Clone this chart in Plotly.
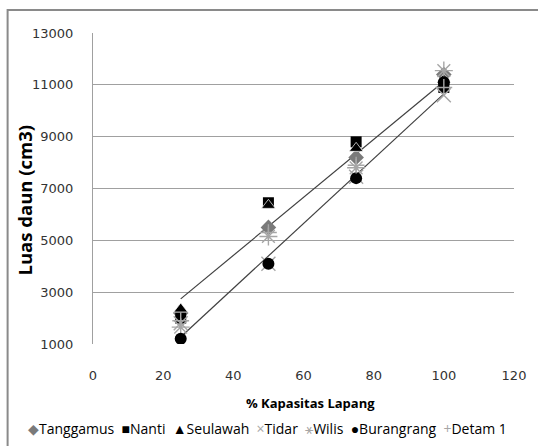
import plotly.graph_objects as go

# Soil water level (% field capacity) and leaf area per variety
kapasitas = [25, 50, 75, 100]

tanggamus = [2200, 5500, 8200, 11400]
nanti = [2000, 6450, 8800, 10900]
seulawah = [2350, 6350, 8550, 11200]
tidar = [1800, 4100, 7450, 10600]
wilis = [1650, 5150, 7800, 11550]
burangrang = [1200, 4100, 7400, 11100]
detam1 = [1900, 5300, 7900, 10900]

# Linear trend lines (end points at 25 and 100 % field capacity)
trend_x = [25, 100]
trend_upper = [2740, 11130]
trend_lower = [1270, 10650]

x_ticks = [0, 20, 40, 60, 80, 100, 120]
y_ticks = [1000, 3000, 5000, 7000, 9000, 11000, 13000]
y_tick_labels = ["1000", "3000", "5000", "7000", "9000", "11000", "13000"]
x_tick_labels = ["0", "20", "40", "60", "80", "100", "120"]

W, H = 538, 446
L, R, T, B = 93, 21, 33, 102
pw, ph = W - L - R, H - T - B


def px(xpix):
    return (xpix - L) / pw


def py(ypix):
    return (H - B - ypix) / ph


series = [
    ("Tanggamus", tanggamus, dict(symbol="diamond", size=12, color="#7a7a7a")),
    ("Nanti", nanti, dict(symbol="square", size=11, color="#000000")),
    ("Seulawah", seulawah, dict(symbol="triangle-up", size=12, color="#000000",
                                line=dict(color="#ffffff", width=0.7))),
    ("Tidar", tidar, dict(symbol="x-thin-open", size=14, color="#a6a6a6",
                          line=dict(color="#a6a6a6", width=1.4))),
    ("Wilis", wilis, dict(symbol="asterisk-open", size=15, color="#a6a6a6",
                          line=dict(color="#a6a6a6", width=1.4))),
    ("Burangrang", burangrang, dict(symbol="circle", size=12, color="#000000")),
    ("Detam 1", detam1, dict(symbol="cross-thin-open", size=12, color="#a6a6a6",
                             line=dict(color="#a6a6a6", width=1.4))),
]

fig = go.Figure()

for ys in (trend_upper, trend_lower):
    fig.add_trace(go.Scatter(x=trend_x, y=ys, mode="lines",
                             line=dict(color="#404040", width=1.2),
                             showlegend=False, hoverinfo="skip"))

for name, ys, mk in series:
    fig.add_trace(go.Scatter(x=kapasitas, y=ys, mode="markers", name=name,
                             marker=mk, showlegend=False))

tick_font = dict(family="DejaVu Sans", size=13, color="#333333")

fig.update_xaxes(range=[0, 120], tickvals=x_ticks, ticktext=x_tick_labels,
                 showgrid=False, zeroline=False, showline=False, ticks="",
                 ticklabelstandoff=22, tickfont=tick_font)
fig.update_yaxes(range=[1000, 13000], tickvals=y_ticks, ticktext=y_tick_labels,
                 showgrid=True, gridcolor="#a0a0a0", gridwidth=1,
                 zeroline=False, showline=True, linecolor="#a0a0a0",
                 linewidth=1, ticks="", ticklabelstandoff=16,
                 tickfont=tick_font)

# Legend row drawn as coloured text
sym = [("◆", "#7a7a7a", "Tanggamus"), ("■", "#000000", "Nanti"),
       ("▲", "#000000", "Seulawah"), ("×", "#a6a6a6", "Tidar"),
       ("⚹", "#a6a6a6", "Wilis"), ("●", "#000000", "Burangrang"),
       ("+", "#a6a6a6", "Detam 1")]
legend_text = "&nbsp;&nbsp;".join(
    f'<span style="color:{c}">{s}</span>{n}' for s, c, n in sym)

fig.update_layout(
    width=W, height=H,
    margin=dict(l=L, r=R, t=T, b=B),
    paper_bgcolor="white", plot_bgcolor="white",
    showlegend=False,
    shapes=[dict(type="rect", xref="paper", yref="paper",
                 x0=px(7), x1=px(560), y0=py(470), y1=py(10),
                 line=dict(color="#8a8a8a", width=2), layer="below")],
    annotations=[
        dict(text="<b>Luas daun (cm3)</b>", xref="paper", yref="paper",
             x=px(24), y=py(200), textangle=-90, showarrow=False,
             xanchor="center", yanchor="middle",
             font=dict(family="Open Sans", size=18.5, color="#000000")),
        dict(text="<b>% Kapasitas Lapang</b>", xref="paper", yref="paper",
             x=px(312), y=py(403), showarrow=False,
             xanchor="center", yanchor="middle",
             font=dict(family="Open Sans", size=13, color="#000000")),
        dict(text=legend_text, xref="paper", yref="paper",
             x=px(26), y=py(428), xanchor="left", yanchor="middle",
             showarrow=False,
             font=dict(family="Open Sans", size=14, color="#000000")),
    ],
)

fig.write_html("out.html")
